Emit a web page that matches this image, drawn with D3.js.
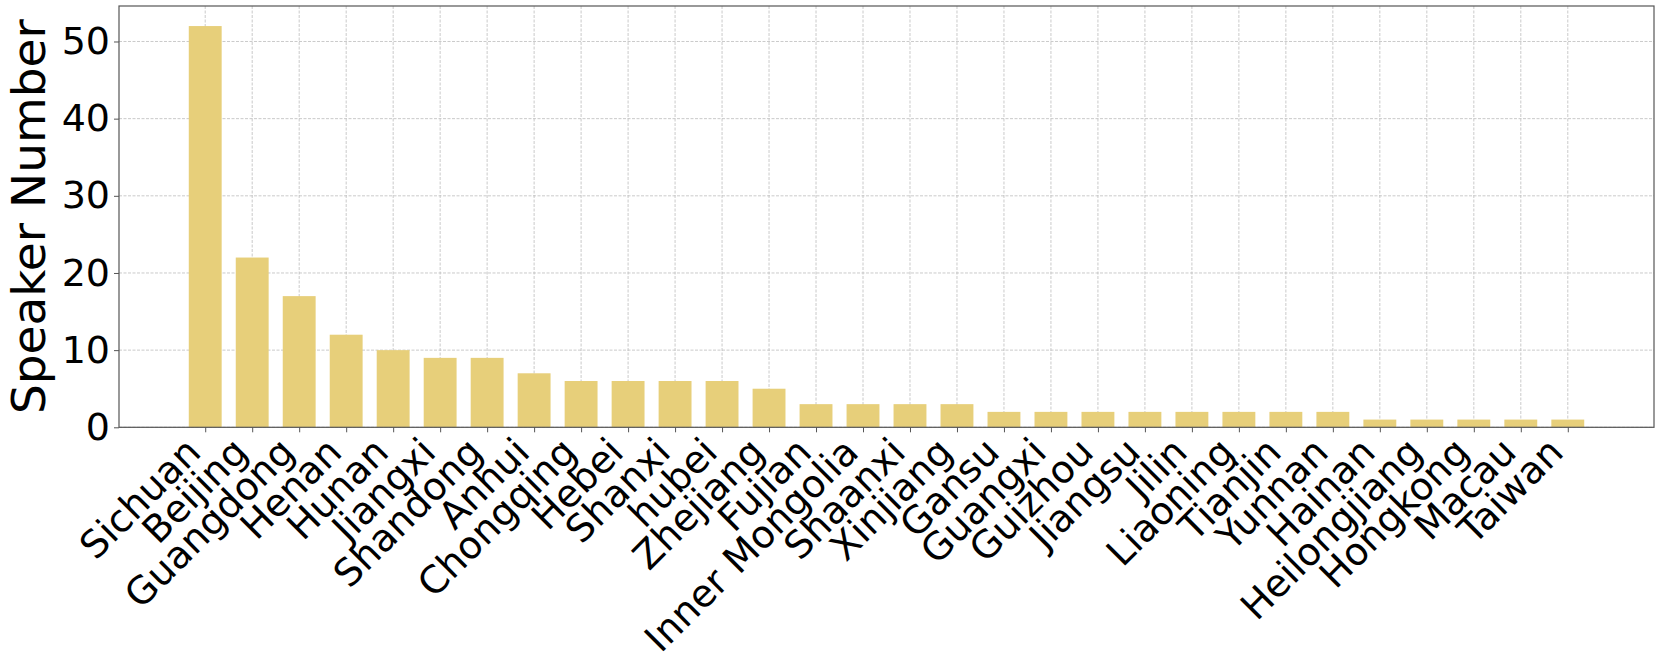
<!DOCTYPE html>
<html>
<head>
<meta charset="utf-8">
<script src="https://cdn.jsdelivr.net/npm/d3@7"></script>
<style>
  html, body { margin: 0; padding: 0; background: #fff; }
  svg { display: block; font-family: "DejaVu Sans", sans-serif; }
</style>
</head>
<body>
<svg width="1661" height="661"></svg>
<script>
const provinces = ['Sichuan', 'Beijing', 'Guangdong', 'Henan', 'Hunan', 'Jiangxi', 'Shandong', 'Anhui',
  'Chongqing', 'Hebei', 'Shanxi', 'hubei', 'Zhejiang', 'Fujian', 'Inner Mongolia', 'Shaanxi', 'Xinjiang',
  'Gansu', 'Guangxi', 'Guizhou', 'Jiangsu', 'Jilin', 'Liaoning', 'Tianjin', 'Yunnan', 'Hainan',
  'Heilongjiang', 'Hongkong', 'Macau', 'Taiwan']
const speakers = [52, 22, 17, 12, 10, 9, 9, 7, 6, 6, 6, 6, 5, 3, 3, 3, 3, 2, 2, 2, 2, 2, 2, 2, 2, 1, 1, 1, 1, 1]
const yTicks = [0, 10, 20, 30, 40, 50]

const svg = d3.select('svg')
const plotL = 119, plotT = 6, plotR = 1654, plotB = 427.3
const barW = 0.7

// index scale, padded like matplotlib (5% margin)
const n = provinces.length
const span = (n - 1) + barW
const x = d3.scaleLinear()
  .domain([-barW / 2 - span * 0.05, n - 1 + barW / 2 + span * 0.05])
  .range([plotL, plotR])
const y = d3.scaleLinear()
  .domain([0, d3.max(speakers) * 1.05])
  .range([plotB, plotT])

const grid = svg.append('g')
grid.selectAll('line.gy')
  .data(yTicks)
  .enter().append('line')
  .attr('x1', plotL).attr('x2', plotR)
  .attr('y1', d => y(d)).attr('y2', d => y(d))
  .attr('stroke', '#bdbdbd').attr('stroke-width', 0.8).attr('stroke-dasharray', '3,1.5')
grid.selectAll('line.gx')
  .data(provinces)
  .enter().append('line')
  .attr('x1', (d, i) => x(i)).attr('x2', (d, i) => x(i))
  .attr('y1', plotT).attr('y2', plotB)
  .attr('stroke', '#bdbdbd').attr('stroke-width', 0.8).attr('stroke-dasharray', '3,1.5')

svg.append('g')
  .selectAll('rect')
  .data(speakers)
  .enter().append('rect')
  .attr('x', (d, i) => x(i - barW / 2))
  .attr('width', x(barW) - x(0))
  .attr('y', d => y(d))
  .attr('height', d => y(0) - y(d))
  .attr('fill', '#e7cf7a')

// frame
svg.append('rect')
  .attr('x', plotL).attr('y', plotT)
  .attr('width', plotR - plotL).attr('height', plotB - plotT)
  .attr('fill', 'none').attr('stroke', '#555').attr('stroke-width', 1.2)

const yAxis = svg.append('g')
  .attr('transform', `translate(${plotL},0)`)
  .call(d3.axisLeft(y).tickValues(yTicks).tickSize(5).tickPadding(4))
yAxis.select('.domain').remove()
yAxis.selectAll('.tick line').attr('stroke', '#555')
yAxis.selectAll('.tick text')
  .attr('font-size', 38).attr('fill', '#000').attr('font-family', '"DejaVu Sans", sans-serif')

const xAxis = svg.append('g')
  .attr('transform', `translate(0,${plotB})`)
  .call(d3.axisBottom(x).tickValues(d3.range(n)).tickSize(5).tickFormat(i => provinces[i]))
xAxis.select('.domain').remove()
xAxis.selectAll('.tick line').attr('stroke', '#555')
xAxis.selectAll('.tick text')
  .attr('font-size', 38).attr('fill', '#000').attr('font-family', '"DejaVu Sans", sans-serif')
  .attr('text-anchor', 'end')
  .attr('dy', 0)
  .attr('y', 0)
  .attr('transform', 'translate(-3,27) rotate(-45)')

svg.append('text')
  .attr('transform', `translate(45,${(plotT + plotB) / 2}) rotate(-90)`)
  .attr('text-anchor', 'middle')
  .attr('font-size', 47)
  .attr('fill', '#000')
  .text('Speaker Number')
</script>
</body>
</html>
